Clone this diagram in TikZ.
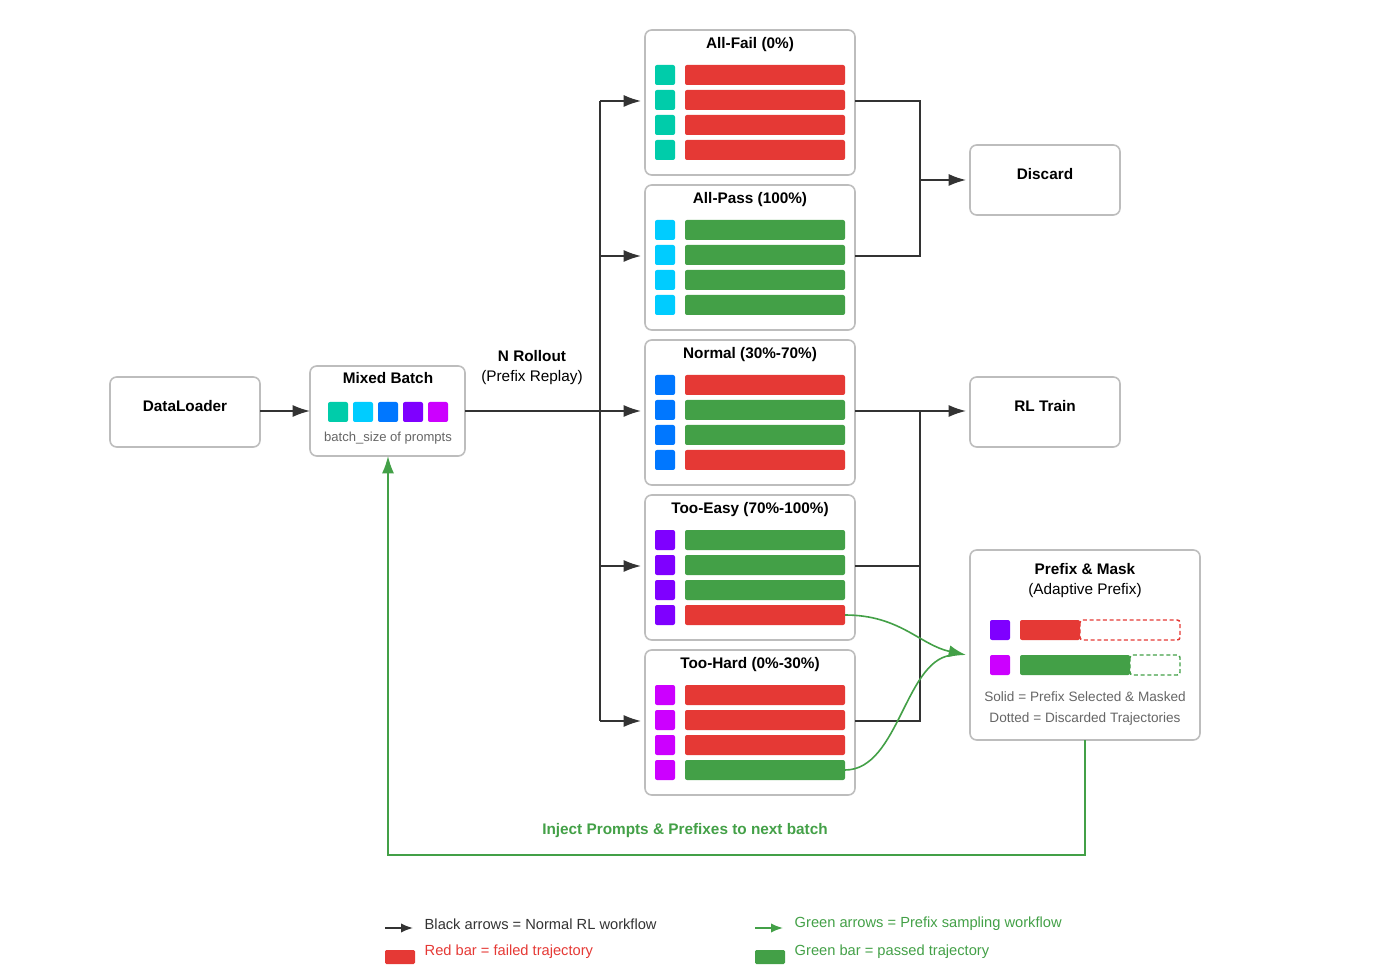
\documentclass[tikz,border=0pt]{standalone}
\usepackage{fontspec}
\setmainfont{Liberation Sans}
\usetikzlibrary{arrows.meta}
\definecolor{cA}{HTML}{00CCAA}\definecolor{cB}{HTML}{00CCFF}\definecolor{cC}{HTML}{0077FF}
\definecolor{cD}{HTML}{7F00FF}\definecolor{cE}{HTML}{CC00FF}
\definecolor{rb}{HTML}{E53935}\definecolor{gb}{HTML}{43A047}
\definecolor{bd}{HTML}{BDBDBD}\definecolor{ln}{HTML}{333333}\definecolor{tx}{HTML}{666666}
\tikzset{x=0.75pt,y=-0.75pt,
box/.style={draw=bd,line width=1.2pt,rounded corners=5pt,fill=white},
ttl/.style={font=\bfseries\fontsize{11.5}{13}\selectfont},
sq/.style={rounded corners=1.5pt,line width=0pt},
bar/.style={rounded corners=1.5pt},
blk/.style={draw=ln,line width=1.2pt},
arr/.style={blk,-{Latex[length=13pt,width=9pt]}},
garr/.style={draw=gb,line width=1.2pt,-{Latex[length=13pt,width=9pt]}},
lg/.style={font=\fontsize{11}{12}\selectfont,anchor=west}}
\begin{document}
\begin{tikzpicture}
\useasboundingbox (0,0) rectangle (1400,980);
% DataLoader
\draw[box] (110,377) rectangle (260,447);
\node[ttl] (dl) at (185,406) {DataLoader};
\coordinate (dlr) at (260,411);
% Mixed batch
\draw[box] (310,366) rectangle (465,456);
\node[ttl] (mb) at (388,378) {Mixed Batch};
\foreach \c [count=\i] in {cA,cB,cC,cD,cE}
  \fill[\c,sq] (328+25*\i-25,402) rectangle ++(20,20);
\node[font=\fontsize{9.8}{11}\selectfont,text=tx] (mbs) at (388,438) {batch\_size of prompts};
\coordinate (mbl) at (310,411);\coordinate (mbr) at (465,411);\coordinate (mbb) at (388,456);
\draw[arr] (dlr) -- (mbl);
% groups
\foreach \t/\name/\col [count=\k] in {30/All-Fail (0\%)/cA,185/All-Pass (100\%)/cB,340/Normal (30\%-70\%)/cC,495/Too-Easy (70\%-100\%)/cD,650/Too-Hard (0\%-30\%)/cE}{
  \draw[box] (645,\t) rectangle (855,\t+145);
  \node[ttl] (g\k) at (750,\t+15) {\name};
  \foreach \j in {1,...,4}{
    \fill[\col,sq] (655,\t+25*\j+10) rectangle ++(20,20);
  }
}
\def\bars#1#2#3#4#5{%
 \foreach \cc [count=\j] in {#2,#3,#4,#5}\fill[\cc,bar] (685,#1+25*\j+10) rectangle (845,#1+25*\j+30);}
\bars{30}{rb}{rb}{rb}{rb}
\bars{185}{gb}{gb}{gb}{gb}
\bars{340}{rb}{gb}{gb}{rb}
\bars{495}{gb}{gb}{gb}{rb}
\bars{650}{rb}{rb}{rb}{gb}
% Rollout label
\node[ttl] (nr) at (532,356) {N Rollout};
\node[font=\fontsize{11.5}{13}\selectfont] (pr) at (532,378) {(Prefix Replay)};
% left trunk
\coordinate (t1) at (600,101);\coordinate (t5) at (600,721);
\draw[blk] (t1) -- (t5);
\draw[arr] (mbr) -- (641,411);
\foreach \y in {101,256,566,721} \draw[arr] (600,\y) -- (641,\y);
% right side
\draw[blk] (855,101) -- (920,101) -- (920,256) -- (855,256);
\draw[box] (970,145) rectangle (1120,215);
\node[ttl] (dc) at (1045,174) {Discard};
\draw[arr] (920,180) -- (966,180);
\draw[box] (970,377) rectangle (1120,447);
\node[ttl] (rl) at (1045,406) {RL Train};
\draw[arr] (855,411) -- (966,411);
\draw[blk] (920,411) -- (920,721) -- (855,721);
\draw[blk] (855,566) -- (920,566);
% Prefix box
\draw[box] (970,550) rectangle (1200,740);
\node[ttl] (pm) at (1085,569) {Prefix \& Mask};
\node[font=\fontsize{11.5}{13}\selectfont] (ap) at (1085,591) {(Adaptive Prefix)};
\fill[cD,sq] (990,620) rectangle ++(20,20);
\fill[cE,sq] (990,655) rectangle ++(20,20);
\draw[rb,densely dashed,line width=1.1pt,rounded corners=2pt] (1080,620) rectangle (1180,640);
\fill[rb,bar] (1020,620) rectangle (1080,640);
\draw[gb,densely dashed,line width=1.1pt,rounded corners=2pt] (1130,655) rectangle (1180,675);
\fill[gb,bar] (1020,655) rectangle (1130,675);
\node[font=\fontsize{10.2}{11}\selectfont,text=tx] (s1) at (1085,697) {Solid = Prefix Selected \& Masked};
\node[font=\fontsize{10.2}{11}\selectfont,text=tx] (s2) at (1085,719) {Dotted = Discarded Trajectories};
% green curves
\coordinate (pin) at (966,655);
\draw[garr] (845,615) .. controls (900,615) and (920,645) .. (pin);
\draw[gb,line width=1.2pt] (845,770) .. controls (900,770) and (905,655) .. (955,655);
\coordinate (pb) at (1085,740);
\draw[garr] (pb) -- (1085,855) -- (388,855) -- (mbb);
\node[font=\bfseries\fontsize{11.5}{13}\selectfont,text=gb] (inj) at (685,831) {Inject Prompts \& Prefixes to next batch};
% legend
\draw[blk,-{Latex[length=9pt,width=7pt]}] (385,928) -- (413,928);
\node[lg,text=ln] (l1) at (420,924) {Black arrows = Normal RL workflow};
\fill[rb,rounded corners=1pt] (385,950) rectangle (415,964);
\node[lg,text=rb] (l2) at (420,952) {Red bar = failed trajectory};
\draw[gb,line width=1.2pt,-{Latex[length=9pt,width=7pt]}] (755,928) -- (783,928);
\node[lg,text=gb] (l3) at (790,924) {Green arrows = Prefix sampling workflow};
\fill[gb,rounded corners=1pt] (755,950) rectangle (785,964);
\node[lg,text=gb] (l4) at (790,952) {Green bar = passed trajectory};
\end{tikzpicture}
\end{document}
